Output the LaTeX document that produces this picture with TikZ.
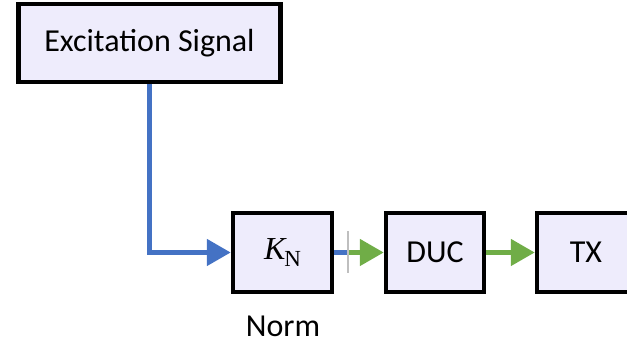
\documentclass[tikz,border=0pt]{standalone}
\usepackage{fontspec}
\setmainfont{Carlito}
\newfontfamily\mathserif{Liberation Serif}
\usetikzlibrary{arrows.meta}
\definecolor{boxfill}{RGB}{238,236,252}
\definecolor{linkblue}{RGB}{68,114,196}
\definecolor{linkgreen}{RGB}{112,173,71}
\definecolor{tickgray}{RGB}{191,191,191}
\begin{document}
\begin{tikzpicture}[x=1pt,y=1pt,
  blockbox/.style={draw=black,line width=4.5pt,fill=boxfill,inner sep=0pt,
    font=\fontsize{32}{36}\selectfont},
  bluelink/.style={draw=linkblue,line width=5pt},
  greenlink/.style={draw=linkgreen,line width=5pt,-{Triangle[length=24pt,width=26pt]}},
  bluearrow/.style={draw=linkblue,line width=5pt,-{Triangle[length=24pt,width=26pt]}},
  lbl/.style={font=\fontsize{32}{36}\selectfont,inner sep=0pt}]
\useasboundingbox (0,0) rectangle (627,344);
\clip (0,0) rectangle (627,344);
\node[blockbox,minimum width=262pt,minimum height=78pt] (exc) at (149.5,301) {Excitation Signal};
\node[blockbox,minimum width=99pt,minimum height=79pt] (kn) at (282.5,91.5)
  {\mathserif\itshape K\kern-1pt\raisebox{-7pt}{\upshape\fontsize{23}{26}\selectfont N}};
\node[blockbox,minimum width=98pt,minimum height=79pt] (duc) at (435,91.5) {DUC};
\node[blockbox,minimum width=98pt,minimum height=79pt] (tx) at (586,91.5) {TX};
\node[lbl,anchor=base] (norm) at (283,7.5) {Norm};
\coordinate (corner) at (exc.south |- kn.west);
\coordinate (tick) at (348,91.5);
\draw[bluearrow] (exc.south) -- (corner) -- (kn.west);
\draw[bluelink] (kn.east) -- (tick);
\draw[greenlink] (tick) -- (duc.west);
\draw[greenlink] (duc.east) -- (tx.west);
\draw[tickgray,line width=2.5pt] ([yshift=21pt]tick) -- ([yshift=-21pt]tick);
\end{tikzpicture}
\end{document}
